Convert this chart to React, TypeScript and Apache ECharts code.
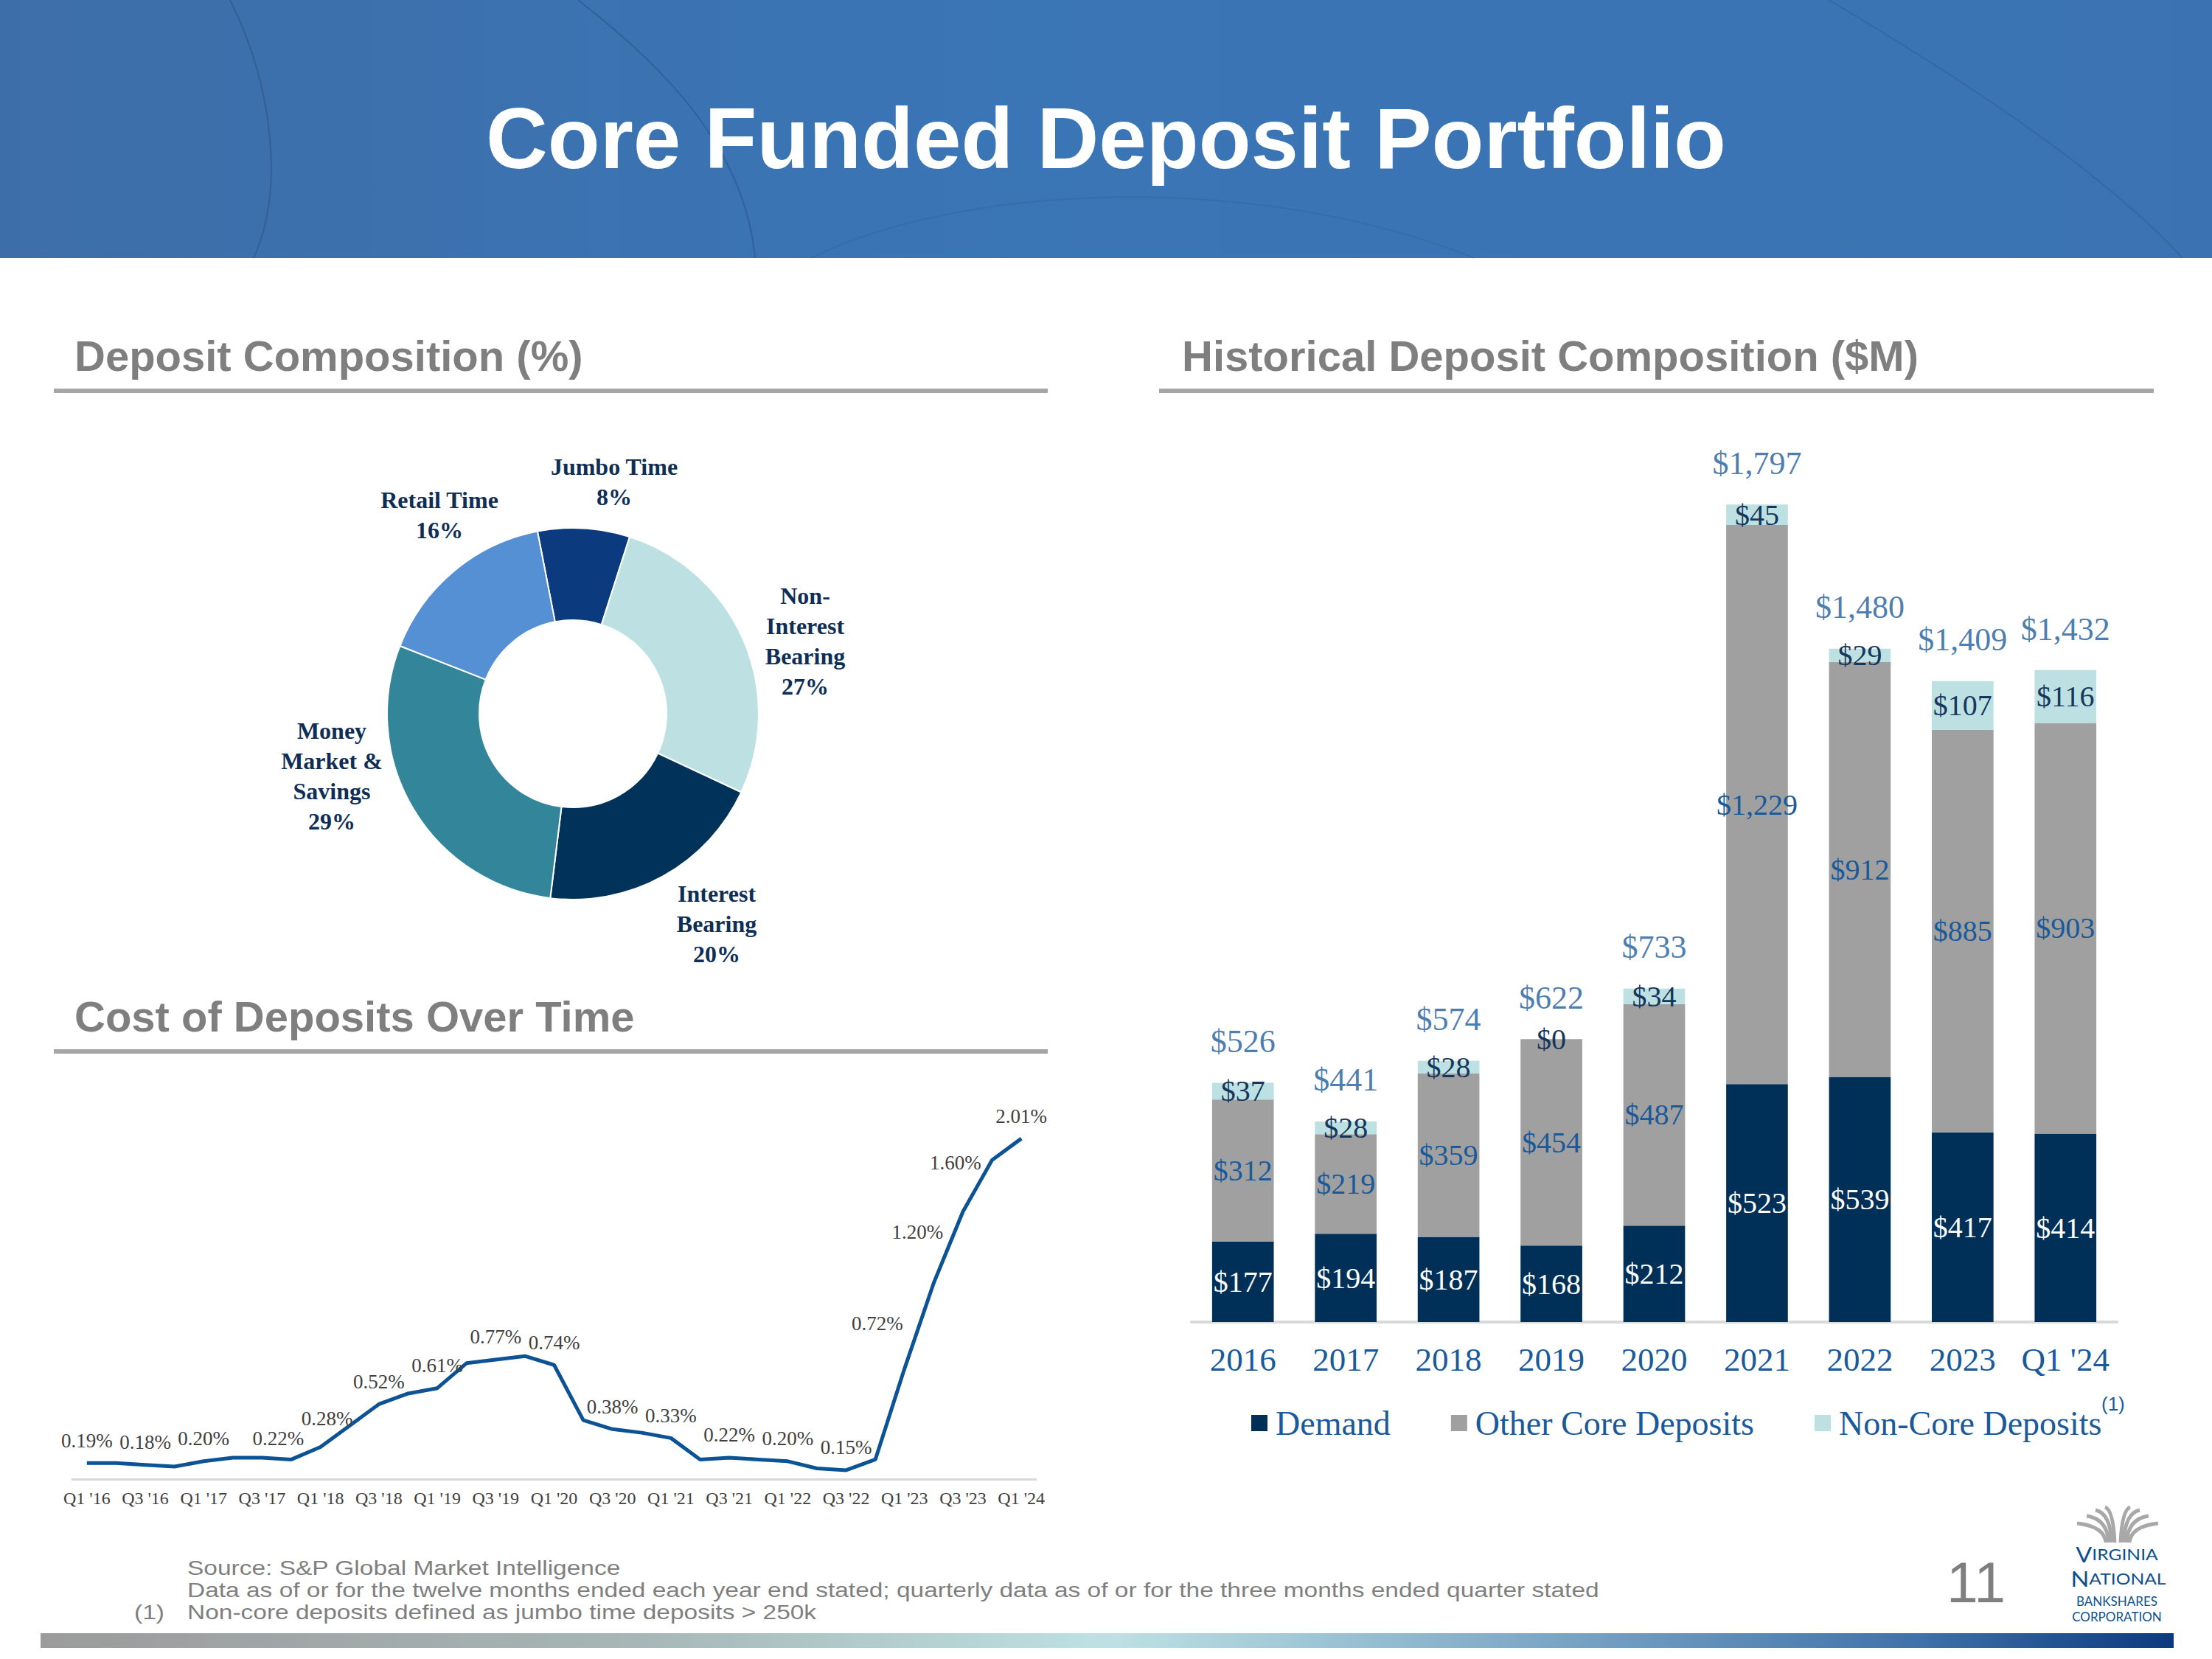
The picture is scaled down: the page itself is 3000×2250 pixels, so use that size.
import React, { useEffect, useRef } from 'react';
import * as echarts from 'echarts';

// ---------------- data ----------------
const PIE_CATEGORIES = ['Jumbo Time', 'Non-Interest Bearing', 'Interest Bearing', 'Money Market & Savings', 'Retail Time'];
const PIE_LABEL_TEXT = ['Jumbo Time', 'Non-\nInterest\nBearing', 'Interest\nBearing', 'Money\nMarket &\nSavings', 'Retail Time'];
const PIE_PERCENTS = [8, 27, 20, 29, 16];

const QUARTERS = [
  "Q1 '16", "Q2 '16", "Q3 '16", "Q4 '16",
  "Q1 '17", "Q2 '17", "Q3 '17", "Q4 '17",
  "Q1 '18", "Q2 '18", "Q3 '18", "Q4 '18",
  "Q1 '19", "Q2 '19", "Q3 '19", "Q4 '19",
  "Q1 '20", "Q2 '20", "Q3 '20", "Q4 '20",
  "Q1 '21", "Q2 '21", "Q3 '21", "Q4 '21",
  "Q1 '22", "Q2 '22", "Q3 '22", "Q4 '22",
  "Q1 '23", "Q2 '23", "Q3 '23", "Q4 '23",
  "Q1 '24",
];
const COST_OF_DEPOSITS = [
  0.19, 0.19, 0.18, 0.17,
  0.20, 0.22, 0.22, 0.21,
  0.28, 0.40, 0.52, 0.58,
  0.61, 0.75, 0.77, 0.79,
  0.74, 0.43, 0.38, 0.36,
  0.33, 0.21, 0.22, 0.21,
  0.20, 0.16, 0.15, 0.21,
  0.72, 1.20, 1.60, 1.89,
  2.01,
];
const COST_LABELED = [0, 2, 4, 6, 8, 10, 12, 14, 16, 18, 20, 22, 24, 26, 28, 29, 30, 32];

const YEARS = ['2016', '2017', '2018', '2019', '2020', '2021', '2022', '2023', "Q1 '24"];
const DEMAND = [177, 194, 187, 168, 212, 523, 539, 417, 414];
const OTHER_CORE = [312, 219, 359, 454, 487, 1229, 912, 885, 903];
const NON_CORE = [37, 28, 28, 0, 34, 45, 29, 107, 116];
const TOTALS = [526, 441, 574, 622, 733, 1797, 1480, 1409, 1432];

// ---------------- layout / style ----------------
const PIE_COLORS = ['#0b3a7e', '#bde0e3', '#00325a', '#33869a', '#5590d4'];
const PIE_LABEL_POS: number[][] = [[833, 653], [1092, 869], [972, 1253], [450, 1052], [596, 698]];
const COST_LABEL_SHIFT: Record<number, number[]> = {
  6: [22, 5], 8: [9, -8], 28: [-37, -31], 29: [-22, -38], 30: [-10, -36],
};

const SERIF = '"Liberation Serif", "Times New Roman", serif';
const SANS = '"Liberation Sans", Arial, sans-serif';
const LOGO_FONT = 'Lato, "Open Sans", sans-serif';
const BAR_BLUE = '#1a5a9b';
const GRAY_TXT = '#7f7f7f';

const money = (v: number) => '$' + v.toLocaleString('en-US');

function buildGraphic() {
  const g: any[] = [];
  // header band
  g.push({
    type: 'rect', shape: { x: 0, y: 0, width: 3000, height: 350 }, silent: true,
    style: {
      fill: {
        type: 'linear', x: 0, y: 0, x2: 1, y2: 0,
        colorStops: [
          { offset: 0, color: '#3d6ea8' },
          { offset: 0.45, color: '#3a75b6' },
          { offset: 1, color: '#3b73b2' },
        ],
      },
    },
  });
  const curveStyle = { stroke: 'rgba(40,80,130,0.5)', lineWidth: 2, fill: 'none' };
  g.push({ type: 'bezierCurve', silent: true, shape: { x1: 312, y1: 0, cpx1: 372, cpy1: 120, cpx2: 385, cpy2: 260, x2: 344, y2: 350 }, style: curveStyle });
  g.push({ type: 'bezierCurve', silent: true, shape: { x1: 784, y1: 0, cpx1: 900, cpy1: 90, cpx2: 1010, cpy2: 200, x2: 1024, y2: 350 }, style: curveStyle });
  g.push({ type: 'bezierCurve', silent: true, shape: { x1: 2480, y1: 0, cpx1: 2650, cpy1: 100, cpx2: 2850, cpy2: 230, x2: 2960, y2: 350 }, style: { ...curveStyle, stroke: 'rgba(40,80,130,0.3)' } });
  g.push({ type: 'bezierCurve', silent: true, shape: { x1: 1100, y1: 350, cpx1: 1300, cpy1: 250, cpx2: 1700, cpy2: 230, x2: 2000, y2: 350 }, style: { ...curveStyle, stroke: 'rgba(40,80,130,0.2)' } });
  // title
  g.push({
    type: 'text', x: 1500, y: 188, silent: true,
    style: { text: 'Core Funded Deposit Portfolio', fill: '#ffffff', fontSize: 116, fontWeight: 'bold', fontFamily: SANS, align: 'center', verticalAlign: 'middle' },
  });
  // section headers
  const header = (text: string, x: number, y: number) => ({
    type: 'text', x, y, silent: true,
    style: { text, fill: GRAY_TXT, fontSize: 58, fontWeight: 'bold', fontFamily: SANS, align: 'left', verticalAlign: 'middle' },
  });
  g.push(header('Deposit Composition (%)', 101, 482));
  g.push(header('Historical Deposit Composition ($M)', 1603, 482));
  g.push(header('Cost of Deposits Over Time', 101, 1378));
  const rule = (x: number, y: number, w: number) => ({
    type: 'rect', silent: true, shape: { x, y, width: w, height: 6 }, style: { fill: '#a6a6a6' },
  });
  g.push(rule(73, 527, 1348));
  g.push(rule(1572, 527, 1349));
  g.push(rule(73, 1423, 1348));
  // superscript on legend
  g.push({
    type: 'text', x: 2850, y: 1904, silent: true,
    style: { text: '(1)', fill: BAR_BLUE, fontSize: 26, fontFamily: SANS, align: 'left', verticalAlign: 'middle' },
  });
  // footer notes (wide sans, stretched horizontally as in the slide)
  const note = (text: string, x: number, y: number) => ({
    type: 'text', x, y, scaleX: 1.24, silent: true,
    style: { text, fill: GRAY_TXT, fontSize: 27, fontFamily: SANS, align: 'left', verticalAlign: 'middle' },
  });
  g.push(note('Source: S&P Global Market Intelligence', 254, 2126));
  g.push(note('Data as of or for the twelve months ended each year end stated; quarterly data as of or for the three months ended quarter stated', 254, 2156));
  g.push(note('(1)', 182, 2186));
  g.push(note('Non-core deposits defined as jumbo time deposits > 250k', 254, 2186));
  // page number
  g.push({
    type: 'text', x: 2680, y: 2146, silent: true,
    style: { text: '11', fill: GRAY_TXT, fontSize: 77, fontFamily: SANS, align: 'center', verticalAlign: 'middle' },
  });
  // logo fan
  const fanStyle = { stroke: '#a8a8a8', lineWidth: 5, fill: 'none' };
  const leftEnds = [[2817, 2066], [2830, 2056], [2842, 2048], [2855, 2044]];
  const rightEnds = [[2927, 2066], [2914, 2056], [2902, 2048], [2889, 2044]];
  leftEnds.forEach((e, k) => {
    const x1 = 2856 + k * 4;
    g.push({ type: 'bezierCurve', silent: true, shape: { x1, y1: 2092, cpx1: x1 - 2, cpy1: e[1] + 4, x2: e[0], y2: e[1] }, style: fanStyle });
  });
  rightEnds.forEach((e, k) => {
    const x1 = 2888 - k * 4;
    g.push({ type: 'bezierCurve', silent: true, shape: { x1, y1: 2092, cpx1: x1 + 2, cpy1: e[1] + 4, x2: e[0], y2: e[1] }, style: fanStyle });
  });
  const LOGO_BLUE = '#0d4f8c';
  const logoRich = {
    big: { fontSize: 29, lineHeight: 28, fontFamily: LOGO_FONT, color: LOGO_BLUE },
    small: { fontSize: 22, lineHeight: 28, fontFamily: LOGO_FONT, color: LOGO_BLUE },
  };
  g.push({
    type: 'text', x: 2871, y: 2108, scaleX: 1.12, silent: true,
    style: { text: '{big|V}{small|IRGINIA}', rich: logoRich, align: 'center', verticalAlign: 'middle', fill: LOGO_BLUE },
  });
  g.push({
    type: 'text', x: 2873, y: 2141, scaleX: 1.12, silent: true,
    style: { text: '{big|N}{small|ATIONAL}', rich: logoRich, align: 'center', verticalAlign: 'middle', fill: LOGO_BLUE },
  });
  g.push({
    type: 'text', x: 2871, y: 2171, silent: true,
    style: { text: 'BANKSHARES', fill: LOGO_BLUE, fontSize: 17, fontFamily: LOGO_FONT, align: 'center', verticalAlign: 'middle' },
  });
  g.push({
    type: 'text', x: 2871, y: 2192, silent: true,
    style: { text: 'CORPORATION', fill: LOGO_BLUE, fontSize: 17, fontFamily: LOGO_FONT, align: 'center', verticalAlign: 'middle' },
  });
  // bottom gradient bar
  g.push({
    type: 'rect', silent: true, shape: { x: 55, y: 2215, width: 2893, height: 20 },
    style: {
      fill: {
        type: 'linear', x: 0, y: 0, x2: 1, y2: 0,
        colorStops: [
          { offset: 0, color: '#9b9b9b' },
          { offset: 0.28, color: '#a7b6b6' },
          { offset: 0.5, color: '#bde1e3' },
          { offset: 0.72, color: '#77a2c3' },
          { offset: 0.88, color: '#3f72aa' },
          { offset: 1, color: '#0b3a7e' },
        ],
      },
    },
  });
  return g;
}

function buildOption() {
  const pieData = PIE_PERCENTS.map((v, i) => ({
    name: PIE_CATEGORIES[i], value: v, itemStyle: { color: PIE_COLORS[i] },
  }));

  const costData = COST_OF_DEPOSITS.map((v, i) => {
    const shown = COST_LABELED.indexOf(i) >= 0;
    return {
      value: v,
      label: shown ? { show: true, offset: COST_LABEL_SHIFT[i] || [0, 0] } : { show: false },
    };
  });

  const barLabelBase = { show: true, position: 'inside', fontSize: 40, fontFamily: SERIF, formatter: (p: any) => money(p.value) };

  return {
    animation: false,
    backgroundColor: '#ffffff',
    graphic: buildGraphic(),
    legend: {
      data: ['Demand', 'Other Core Deposits', 'Non-Core Deposits'],
      left: 1697, top: 1907, padding: 0,
      icon: 'rect', itemWidth: 22, itemHeight: 22, itemGap: 82,
      selectedMode: false,
      textStyle: { fontSize: 46, fontFamily: SERIF, color: BAR_BLUE, padding: [0, 0, 0, 6] },
    },
    grid: [
      { left: 98, right: 1595, top: 1474, bottom: 244 },
      { left: 1616, right: 129, top: 559, bottom: 457 },
    ],
    xAxis: [
      {
        gridIndex: 0, type: 'category', data: QUARTERS, boundaryGap: true,
        axisLine: { lineStyle: { color: '#d9d9d9', width: 3 } },
        axisTick: { show: false },
        axisLabel: { interval: 1, fontSize: 24, color: '#404040', fontFamily: SERIF, margin: 14 },
      },
      {
        gridIndex: 1, type: 'category', data: YEARS, boundaryGap: true,
        axisLine: { lineStyle: { color: '#d9d9d9', width: 4 } },
        axisTick: { show: false },
        axisLabel: { interval: 0, fontSize: 45, color: BAR_BLUE, fontFamily: SERIF, margin: 28 },
      },
    ],
    yAxis: [
      { gridIndex: 0, type: 'value', min: 0.1, max: 2.3, show: false },
      { gridIndex: 1, type: 'value', min: 0, max: 2000, show: false },
    ],
    series: [
      {
        type: 'pie', name: 'Deposit Composition',
        center: [777, 968], radius: [127, 252], startAngle: 101, clockwise: true,
        avoidLabelOverlap: false, silent: true,
        data: pieData,
        itemStyle: { borderColor: '#ffffff', borderWidth: 2 },
        label: {
          show: true, position: 'outside',
          formatter: (p: any) => PIE_LABEL_TEXT[p.dataIndex] + '\n' + p.value + '%',
          fontFamily: SERIF, fontWeight: 'bold', fontSize: 32, lineHeight: 41, color: '#0e2e57', align: 'center',
        },
        labelLine: { show: false },
        labelLayout: (p: any) => ({
          x: PIE_LABEL_POS[p.dataIndex][0], y: PIE_LABEL_POS[p.dataIndex][1],
          align: 'center', verticalAlign: 'middle',
        }),
        emphasis: { disabled: true },
      },
      {
        type: 'line', name: 'Cost of Deposits', xAxisIndex: 0, yAxisIndex: 0,
        data: costData,
        symbol: 'circle', symbolSize: 0.1, showSymbol: true,
        itemStyle: { color: '#0b5394' },
        lineStyle: { color: '#0b5394', width: 5 },
        label: {
          position: 'top', distance: 17, fontSize: 27, fontFamily: SERIF, color: '#404040',
          formatter: (p: any) => Number(p.value).toFixed(2) + '%',
        },
        silent: true,
      },
      {
        type: 'bar', name: 'Demand', stack: 'dep', xAxisIndex: 1, yAxisIndex: 1,
        data: DEMAND, barCategoryGap: '40%',
        itemStyle: { color: '#003057' },
        label: { ...barLabelBase, color: '#ffffff' },
        silent: true,
      },
      {
        type: 'bar', name: 'Other Core Deposits', stack: 'dep', xAxisIndex: 1, yAxisIndex: 1,
        data: OTHER_CORE, barCategoryGap: '40%',
        itemStyle: { color: '#a0a0a0' },
        label: { ...barLabelBase, color: BAR_BLUE },
        silent: true,
      },
      {
        type: 'bar', name: 'Non-Core Deposits', stack: 'dep', xAxisIndex: 1, yAxisIndex: 1,
        data: NON_CORE, barCategoryGap: '40%',
        itemStyle: { color: '#bde0e2' },
        label: { ...barLabelBase, color: '#16365c' },
        silent: true,
      },
      {
        type: 'scatter', name: 'Total', xAxisIndex: 1, yAxisIndex: 1,
        data: TOTALS, symbolSize: 0.1,
        itemStyle: { color: 'rgba(0,0,0,0)' },
        label: {
          show: true, position: 'top', distance: 34, fontSize: 44, fontFamily: SERIF, color: BAR_BLUE,
          formatter: (p: any) => money(p.value),
        },
        silent: true,
      },
    ],
  };
}

export default function App() {
  const ref = useRef<HTMLDivElement>(null);
  useEffect(() => {
    document.body.style.margin = '0';
    if (!ref.current) return;
    const chart = echarts.init(ref.current, null, { renderer: 'svg' });
    chart.setOption(buildOption() as any);
    return () => chart.dispose();
  }, []);
  return <div ref={ref} style={{ width: 3000, height: 2250 }} />;
}
